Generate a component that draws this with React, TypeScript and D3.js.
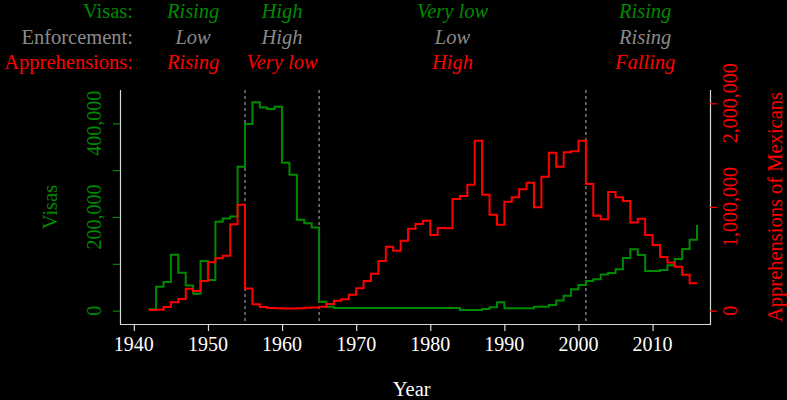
import React, { useEffect, useRef } from "react";
import * as d3 from "d3";

const years: number[] = d3.range(1942, 2017);

const visas: number[] = [
  3000, 51000, 61000, 119500, 81000, 54000, 36000, 106000, 65500, 190000,
  197000, 201000, 307500, 398500, 445000, 434000, 430500, 435500, 316000, 290000,
  194000, 186500, 177500, 19000, 8500, 5700, 5700, 5700, 5700, 5700,
  5700, 5700, 5700, 5700, 5700, 5700, 5700, 5700, 5700, 5700,
  5700, 5700, 1500, 1500, 1500, 3600, 7200, 17900, 5100, 5100,
  5100, 5100, 8500, 8500, 12100, 21800, 32000, 45700, 55000, 63400,
  67000, 77000, 80500, 88300, 112500, 131000, 119000, 84700, 84700, 86900,
  97000, 110400, 131700, 151600, 183000,
];

const apprehensions: number[] = [
  6000, 8500, 35700, 81000, 112800, 212000, 190000, 286400, 466700, 505000,
  530400, 833000, 1022000, 215000, 61700, 35700, 26000, 23100, 22000, 22000,
  23100, 29000, 32000, 38600, 64600, 96400, 109900, 154300, 216000, 286400,
  356800, 479300, 617200, 578600, 675000, 790700, 836000, 867900, 730000, 797500,
  794300, 1077000, 1106000, 1215000, 1639300, 1118600, 925700, 829300, 1051000, 1093600,
  1170600, 1234000, 997000, 1292000, 1523600, 1388600, 1527000, 1537000, 1639300, 1221500,
  916000, 881000, 1144400, 1093500, 1058000, 850000, 887200, 731000, 633300, 518000,
  466000, 424300, 347000, 265000, 265000,
];

const xTicks: number[] = [1940, 1950, 1960, 1970, 1980, 1990, 2000, 2010];
const visaTicks: number[] = [0, 100000, 200000, 300000, 400000];
const visaLabelTicks: number[] = [0, 200000, 400000];
const apprTicks: number[] = [0, 1000000, 2000000];

const periodBreaks: number[] = [1941, 1955, 1965, 2001, 2017];
const rowLabels: string[] = ["Visas:", "Enforcement:", "Apprehensions:"];
const visaStatus: string[] = ["Rising", "High", "Very low", "Rising"];
const enforcementStatus: string[] = ["Low", "High", "Low", "Rising"];
const apprehensionStatus: string[] = ["Rising", "Very low", "High", "Falling"];

const W = 787;
const H = 400;
const GREEN = "#008a00";
const GRAY = "#8a8a8a";
const RED = "#ff0000";
const FONT = "'Liberation Serif', 'Times New Roman', serif";

export default function App() {
  const ref = useRef<SVGSVGElement | null>(null);

  useEffect(() => {
    document.body.style.margin = "0";
    document.body.style.background = "#000";
    const svg = d3.select(ref.current);
    svg.selectAll("*").remove();

    const left = 120, right = 710, top = 90, bottom = 324;
    const x = d3.scaleLinear().domain([1938.13, 2017.75]).range([left, right]);
    const yL = d3.scaleLinear().domain([-28400, 471100]).range([bottom, top]);
    const yR = d3.scaleLinear().domain([-128250, 2128200]).range([bottom, top]);
    const fmt = d3.format(",");

    svg.append("rect").attr("width", W).attr("height", H).attr("fill", "#000");

    // dashed period separators
    svg.selectAll("line.sep")
      .data(periodBreaks.slice(1, -1))
      .enter()
      .append("line")
      .attr("x1", (d) => x(d))
      .attr("x2", (d) => x(d))
      .attr("y1", top)
      .attr("y2", bottom)
      .attr("stroke", "#8c8c8c")
      .attr("stroke-width", 1.3)
      .attr("stroke-dasharray", "3,3");

    // axes box (U shape)
    const g = svg.append("g");
    g.append("path")
      .attr("d", `M${left + 0.5},${top}V${bottom + 0.5}H${right + 0.5}V${top}`)
      .attr("fill", "none")
      .attr("stroke", "#d8d8d8")
      .attr("stroke-width", 1.2);

    // bottom axis ticks
    const xAxis = d3.axisBottom(x).tickValues(xTicks).tickSize(7).tickFormat(() => "");
    const gx = svg.append("g").attr("transform", `translate(0,${bottom})`).call(xAxis);
    gx.select(".domain").remove();
    gx.selectAll("line").attr("stroke", "#d8d8d8").attr("stroke-width", 1.2);
    svg.selectAll("text.xt")
      .data(xTicks)
      .enter()
      .append("text")
      .attr("x", (d) => x(d))
      .attr("y", 351)
      .attr("text-anchor", "middle")
      .attr("fill", "#ffffff")
      .attr("font-family", FONT)
      .attr("font-size", 20)
      .text((d) => String(d));

    // left axis ticks
    const lAxis = d3.axisLeft(yL).tickValues(visaTicks).tickSize(7).tickFormat(() => "");
    const gl = svg.append("g").attr("transform", `translate(${left},0)`).call(lAxis);
    gl.select(".domain").remove();
    gl.selectAll("line").attr("stroke", GREEN).attr("stroke-width", 1.2);
    svg.selectAll("text.yl")
      .data(visaLabelTicks)
      .enter()
      .append("text")
      .attr("transform", (d) => `translate(101,${yL(d)}) rotate(-90)`)
      .attr("text-anchor", "middle")
      .attr("fill", GREEN)
      .attr("font-family", FONT)
      .attr("font-size", 20)
      .text((d) => fmt(d));

    // right axis ticks
    const rAxis = d3.axisRight(yR).tickValues(apprTicks).tickSize(7).tickFormat(() => "");
    const gr = svg.append("g").attr("transform", `translate(${right},0)`).call(rAxis);
    gr.select(".domain").remove();
    gr.selectAll("line").attr("stroke", RED).attr("stroke-width", 1.2);
    svg.selectAll("text.yr")
      .data(apprTicks)
      .enter()
      .append("text")
      .attr("transform", (d) => `translate(737,${yR(d)}) rotate(-90)`)
      .attr("text-anchor", "middle")
      .attr("fill", RED)
      .attr("font-family", FONT)
      .attr("font-size", 20)
      .text((d) => fmt(d));

    // axis titles
    svg.append("text")
      .attr("x", x(1977.5)).attr("y", 396)
      .attr("text-anchor", "middle").attr("fill", "#fff")
      .attr("font-family", FONT).attr("font-size", 20.5).text("Year");
    svg.append("text")
      .attr("transform", `translate(56.5,${(top + bottom) / 2}) rotate(-90)`)
      .attr("text-anchor", "middle").attr("fill", GREEN)
      .attr("font-family", FONT).attr("font-size", 20.5).text("Visas");
    svg.append("text")
      .attr("transform", `translate(781.5,${(top + bottom) / 2}) rotate(-90)`)
      .attr("text-anchor", "middle").attr("fill", RED)
      .attr("font-family", FONT).attr("font-size", 20.5).text("Apprehensions of Mexicans");

    // data lines
    const lineV = d3.line<number>()
      .x((_, i) => x(years[i]))
      .y((d) => yL(d))
      .curve(d3.curveStepAfter);
    const lineA = d3.line<number>()
      .x((_, i) => x(years[i]))
      .y((d) => yR(d))
      .curve(d3.curveStepAfter);
    svg.append("path").attr("d", lineV(visas) || "")
      .attr("fill", "none").attr("stroke", GREEN).attr("stroke-width", 2);
    svg.append("path").attr("d", lineA(apprehensions) || "")
      .attr("fill", "none").attr("stroke", RED).attr("stroke-width", 2);

    // top annotations
    const rows = [
      { label: rowLabels[0], vals: visaStatus, color: GREEN },
      { label: rowLabels[1], vals: enforcementStatus, color: GRAY },
      { label: rowLabels[2], vals: apprehensionStatus, color: RED },
    ];
    const centers = periodBreaks.slice(0, -1).map((b, i) => (b + periodBreaks[i + 1]) / 2);
    rows.forEach((r, ri) => {
      const yy = 18.3 + ri * 25.5;
      svg.append("text")
        .attr("x", 133).attr("y", yy)
        .attr("text-anchor", "end").attr("fill", r.color)
        .attr("font-family", FONT).attr("font-size", 20.5).text(r.label);
      r.vals.forEach((v, ci) => {
        svg.append("text")
          .attr("x", x(centers[ci])).attr("y", yy)
          .attr("text-anchor", "middle").attr("fill", r.color)
          .attr("font-family", FONT).attr("font-style", "italic")
          .attr("font-size", 20.5).text(v);
      });
    });
  }, []);

  return (
    <svg
      ref={ref}
      width={W}
      height={H}
      style={{ position: "absolute", left: 0, top: 0, display: "block" }}
    />
  );
}
